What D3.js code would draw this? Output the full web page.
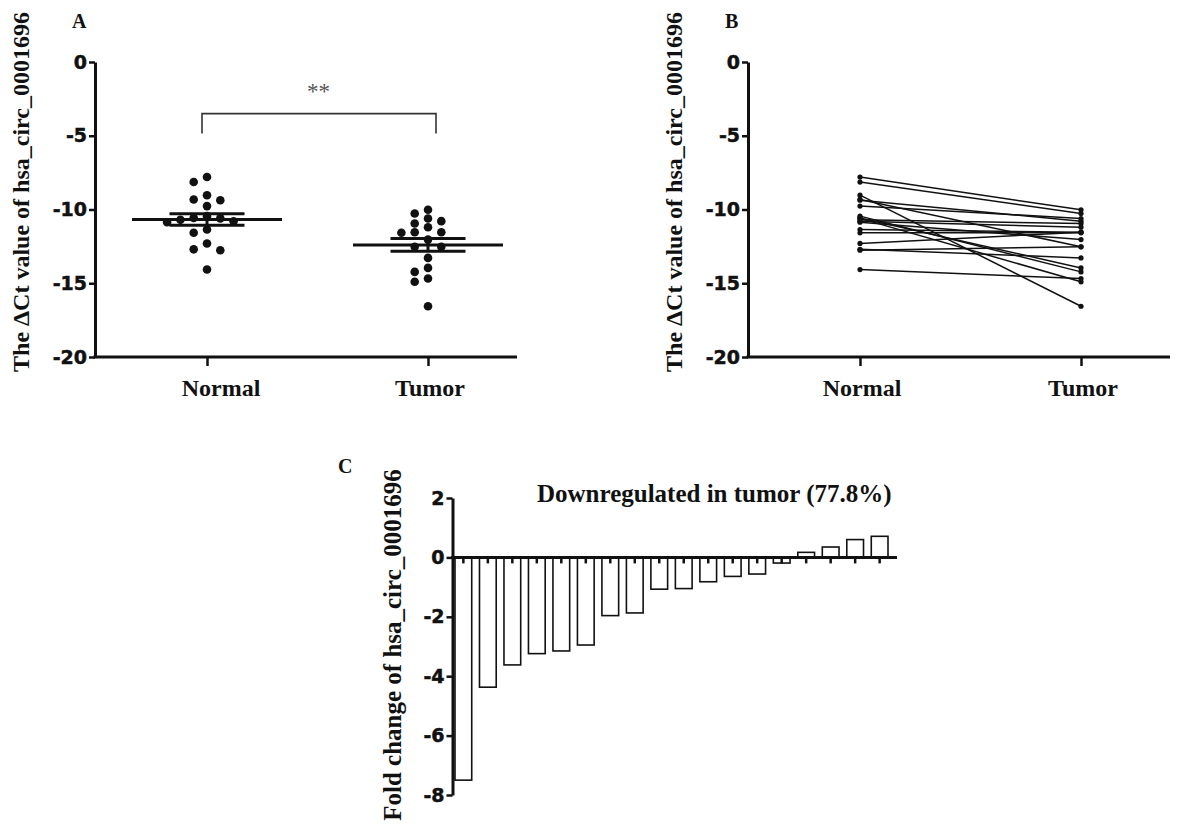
<!DOCTYPE html>
<html lang="en">
<head>
	<title>hsa_circ_0001696 expression</title>
	<script src="https://cdnjs.cloudflare.com/ajax/libs/d3/7.8.5/d3.min.js" charset="utf-8"></script>
	<style>
		body { margin: 0; background: #fff; }
		svg { display: block; }
	</style>
</head>
<body>
<script>
// categories of panels A and B
var groups = ["Normal", "Tumor"];

// delta Ct values, paired by sample (index i is one patient)
var normalCt = [-7.8, -8.14, -9.03, -9.32, -9.37, -9.77, -10.45, -10.57, -10.6, -10.7, -10.8, -10.86, -11.36, -11.58, -12.3, -12.7, -12.76, -14.07];
var tumorCt = [-10.02, -10.27, -16.56, -12.53, -10.79, -10.61, -14.23, -13.96, -14.9, -10.95, -11.2, -12.04, -11.54, -11.58, -11.54, -13.28, -12.53, -14.68];

// fold change per sample, panel C
var foldChange = [-7.5, -4.37, -3.62, -3.24, -3.15, -2.95, -1.96, -1.87, -1.07, -1.05, -0.82, -0.64, -0.56, -0.19, 0.17, 0.35, 0.6, 0.71];

// tick labels
var ctTicks = [0, -5, -10, -15, -20];
var foldTicks = [2, 0, -2, -4, -6, -8];

var w = 1192;
var h = 826;
var serif = "'Liberation Serif', 'Times New Roman', serif";
var sans = "'DejaVu Sans', sans-serif";

var svg = d3.select("body")
	.append("svg")
	.attr("width", w)
	.attr("height", h);

// shared vertical scale for A and B
var yCt = d3.scaleLinear()
	.domain([-20, 0])
	.range([357, 62]);

// plain hyphen for negatives, like the original
var plain = function(d) { return String(d); };

function styleAxis(g) {
	g.attr("font-family", sans).attr("font-size", 19).attr("font-weight", "bold");
	g.select(".domain").attr("stroke", "#111").attr("stroke-width", 3);
	g.selectAll(".tick line").attr("stroke", "#111").attr("stroke-width", 2.5);
	g.selectAll(".tick text")
		.attr("fill", "#111")
		.attr("stroke", "#111")
		.attr("stroke-width", 0.5);
}

// draws the axes frame of panel A or B, returns the x scale
function ctFrame(x0, letter) {
	var xs = d3.scalePoint()
		.domain(groups)
		.range([x0 + 112, x0 + 333]);

	var yAxis = svg.append("g")
		.attr("transform", "translate(" + x0 + ",0)")
		.call(d3.axisLeft(yCt).tickValues(ctTicks).tickFormat(plain).tickSize(6).tickSizeOuter(0).tickPadding(2));
	styleAxis(yAxis);

	// x axis line runs further right than the last group
	svg.append("line")
		.attr("x1", x0 - 1.5)
		.attr("x2", x0 + 422)
		.attr("y1", yCt(-20))
		.attr("y2", yCt(-20))
		.attr("stroke", "#111")
		.attr("stroke-width", 3);

	var xAxis = svg.append("g")
		.attr("transform", "translate(0," + yCt(-20) + ")")
		.call(d3.axisBottom(xs).tickSize(9).tickFormat(""));
	xAxis.select(".domain").remove();
	styleAxis(xAxis);

	svg.selectAll(null)
		.data(groups)
		.enter()
		.append("text")
		.attr("x", function(d) { return xs(d) + (d == "Normal" && letter == "A" ? 14 : 2); })
		.attr("y", yCt(-20) + 39)
		.attr("text-anchor", "middle")
		.attr("font-family", serif)
		.attr("font-weight", "bold")
		.attr("font-size", "24px")
		.attr("fill", "#111")
		.text(function(d) { return d; });

	// y label
	svg.append("text")
		.attr("transform", "translate(" + (x0 - 66) + ",192) rotate(-90)")
		.attr("text-anchor", "middle")
		.attr("font-family", serif)
		.attr("font-weight", "bold")
		.attr("font-size", "24px")
		.attr("fill", "#111")
		.text("The \u0394Ct value of hsa_circ_0001696");

	// panel letter
	svg.append("text")
		.attr("x", x0 - 23)
		.attr("y", 28)
		.attr("font-family", serif)
		.attr("font-weight", "bold")
		.attr("font-size", "20px")
		.attr("fill", "#111")
		.text(letter);

	return xs;
}

// simple greedy swarm: each dot takes the nearest free column
function swarm(values) {
	var step = 13.3;
	var slots = [0, -1, 1, -2, 2, -3, 3, -4, 4];
	var placed = [];
	var sorted = values.slice().sort(function(a, b) { return b - a; });
	sorted.forEach(function(v) {
		for (var k = 0; k < slots.length; k++) {
			var clash = placed.some(function(p) {
				return p.col == slots[k] && Math.abs(yCt(p.v) - yCt(v)) < 8.4;
			});
			if (!clash) {
				placed.push({ v: v, col: slots[k], dx: slots[k] * step });
				break;
			}
		}
	});
	return placed;
}

// ---------- panel A ----------
var xA = ctFrame(95, "A");
var seriesA = [normalCt, tumorCt];

seriesA.forEach(function(vals, gi) {
	var cx = xA(groups[gi]);
	svg.selectAll(null)
		.data(swarm(vals))
		.enter()
		.append("circle")
		.attr("cx", function(d) { return cx + d.dx; })
		.attr("cy", function(d) { return yCt(d.v); })
		.attr("r", 4.3)
		.attr("fill", "#111");

	var m = d3.mean(vals);
	var sem = d3.deviation(vals) / Math.sqrt(vals.length);
	var bars = [
		{ v: m, half: 75 },
		{ v: m + sem, half: 37.5 },
		{ v: m - sem, half: 37.5 }
	];
	svg.selectAll(null)
		.data(bars)
		.enter()
		.append("line")
		.attr("x1", function(d) { return cx - d.half; })
		.attr("x2", function(d) { return cx + d.half; })
		.attr("y1", function(d) { return yCt(d.v); })
		.attr("y2", function(d) { return yCt(d.v); })
		.attr("stroke", "#111")
		.attr("stroke-width", 3);
	svg.append("line")
		.attr("x1", cx).attr("x2", cx)
		.attr("y1", yCt(m + sem)).attr("y2", yCt(m - sem))
		.attr("stroke", "#111")
		.attr("stroke-width", 3);
});

// significance bracket
var brTop = -3.5, brLeg = -4.85;
svg.append("path")
	.attr("d", d3.line()([
		[xA("Normal") - 5, yCt(brLeg)],
		[xA("Normal") - 5, yCt(brTop)],
		[xA("Tumor") + 8, yCt(brTop)],
		[xA("Tumor") + 8, yCt(brLeg)]
	]))
	.attr("fill", "none")
	.attr("stroke", "#333")
	.attr("stroke-width", 1.6);

svg.append("text")
	.attr("x", (xA("Normal") + xA("Tumor")) / 2 + 1)
	.attr("y", yCt(-2.5))
	.attr("text-anchor", "middle")
	.attr("font-family", serif)
	.attr("font-size", "23px")
	.attr("fill", "#555")
	.text("**");

// ---------- panel B ----------
var xB = ctFrame(748, "B");

svg.selectAll(null)
	.data(normalCt)
	.enter()
	.append("line")
	.attr("x1", xB("Normal"))
	.attr("x2", xB("Tumor"))
	.attr("y1", function(d) { return yCt(d); })
	.attr("y2", function(d, i) { return yCt(tumorCt[i]); })
	.attr("stroke", "#111")
	.attr("stroke-width", 1.5);

[normalCt, tumorCt].forEach(function(vals, gi) {
	svg.selectAll(null)
		.data(vals)
		.enter()
		.append("circle")
		.attr("cx", xB(groups[gi]))
		.attr("cy", function(d) { return yCt(d); })
		.attr("r", 2.6)
		.attr("fill", "#111");
});

// ---------- panel C ----------
var yFold = d3.scaleLinear()
	.domain([-8, 2])
	.range([795, 498]);

var xC = d3.scaleBand()
	.domain(d3.range(foldChange.length))
	.range([455, 888])
	.paddingInner(0.317)
	.paddingOuter(0);

var yAxisC = svg.append("g")
	.attr("transform", "translate(452.5,0)")
	.call(d3.axisLeft(yFold).tickValues(foldTicks).tickFormat(plain).tickSize(6).tickSizeOuter(0).tickPadding(2));
styleAxis(yAxisC);

svg.selectAll(null)
	.data(foldChange)
	.enter()
	.append("rect")
	.attr("x", function(d, i) { return xC(i); })
	.attr("y", function(d) { return yFold(Math.max(0, d)); })
	.attr("width", xC.bandwidth())
	.attr("height", function(d) { return Math.abs(yFold(d) - yFold(0)); })
	.attr("fill", "#fff")
	.attr("stroke", "#111")
	.attr("stroke-width", 1.6);

// zero line with small ticks under each bar
svg.append("line")
	.attr("x1", 451)
	.attr("x2", 897)
	.attr("y1", yFold(0))
	.attr("y2", yFold(0))
	.attr("stroke", "#111")
	.attr("stroke-width", 3);

svg.selectAll(null)
	.data(foldChange)
	.enter()
	.append("line")
	.attr("x1", function(d, i) { return xC(i) + xC.bandwidth() / 2; })
	.attr("x2", function(d, i) { return xC(i) + xC.bandwidth() / 2; })
	.attr("y1", yFold(0))
	.attr("y2", yFold(0) + 6)
	.attr("stroke", "#111")
	.attr("stroke-width", 2.5);

svg.append("text")
	.attr("x", 537)
	.attr("y", 502)
	.attr("font-family", serif)
	.attr("font-weight", "bold")
	.attr("font-size", "25px")
	.attr("fill", "#111")
	.text("Downregulated in tumor (77.8%)");

svg.append("text")
	.attr("transform", "translate(401,645) rotate(-90)")
	.attr("text-anchor", "middle")
	.attr("font-family", serif)
	.attr("font-weight", "bold")
	.attr("font-size", "25px")
	.attr("fill", "#111")
	.text("Fold change of hsa_circ_0001696");

svg.append("text")
	.attr("x", 338)
	.attr("y", 473)
	.attr("font-family", serif)
	.attr("font-weight", "bold")
	.attr("font-size", "20px")
	.attr("fill", "#111")
	.text("C");
</script>
</body>
</html>
